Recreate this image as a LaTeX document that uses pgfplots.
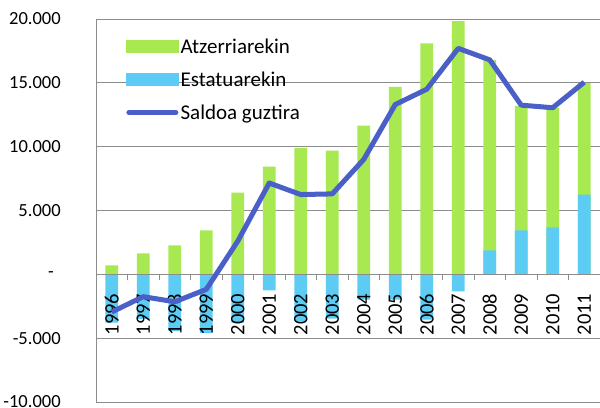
\documentclass[border=0pt]{standalone}
\usepackage{fontspec}
\setmainfont{Carlito}
\usepackage{pgfplots}
\usepackage{pgfplotstable}
\pgfplotsset{compat=1.18}
\definecolor{greenbar}{HTML}{A8E850}
\definecolor{bluebar}{HTML}{5CCCF4}
\definecolor{linecol}{HTML}{4A5FC8}
\definecolor{gridgray}{HTML}{8C8C8C}

\pgfplotsset{
  layers/gridbelow/.define layer set={
    axis background,axis grid,main,axis ticks,axis lines,axis tick labels,axis descriptions,axis foreground
  }{
    grid style={/pgfplots/on layer=axis grid},
    tick style={/pgfplots/on layer=axis ticks},
    axis line style={/pgfplots/on layer=axis lines},
    label style={/pgfplots/on layer=axis descriptions},
    legend style={/pgfplots/on layer=axis descriptions},
    title style={/pgfplots/on layer=axis descriptions},
    colorbar style={/pgfplots/on layer=axis descriptions},
    ticklabel style={/pgfplots/on layer=axis tick labels},
    axis background@ style={/pgfplots/on layer=axis background},
  },
}

\pgfplotstableread{
idx year green blue total
0 1996 700 -3780 -2950
1 1997 1640 -3500 -1750
2 1998 2270 -4430 -2150
3 1999 3440 -4580 -1180
4 2000 6400 -3780 2600
5 2001 8440 -1250 7150
6 2002 9900 -3660 6250
7 2003 9690 -3460 6300
8 2004 11640 -1980 9000
9 2005 14690 -1980 13300
10 2006 18100 -3540 14500
11 2007 19840 -1330 17700
12 2008 14930 1870 16800
13 2009 9760 3440 13250
14 2010 9350 3670 13050
15 2011 8720 6250 15050
}\datatable

\begin{document}
\begin{tikzpicture}
\begin{axis}[
  set layers=gridbelow,
  scale only axis, width=504bp, height=383bp,
  xmin=-0.5, xmax=15.5, ymin=-10000, ymax=20000,
  scaled y ticks=false,
  axis x line=middle, axis y line=left,
  axis line style={gridgray, line width=0.9bp, -},
  ytick={-10000,-5000,0,5000,10000,15000,20000},
  yticklabels={-10.000,-5.000,-\kern7bp,5.000,10.000,15.000,20.000},
  ymajorgrids, grid style={gridgray, line width=0.9bp},
  ytick style={draw=none},
  yticklabel style={font=\fontsize{18.5bp}{22bp}\selectfont, anchor=east, inner sep=0pt, xshift=-33bp},
  xtick={0,...,15},
  xticklabels={1996,1997,1998,1999,2000,2001,2002,2003,2004,2005,2006,2007,2008,2009,2010,2011},
  major x tick style={draw=none},
  minor xtick={0.5,1.5,...,14.5},
  minor x tick style={draw=gridgray, line width=0.9bp},
  minor tick length=6bp,
  xtick align=outside,
  xticklabel style={font=\fontsize{20.5bp}{24bp}\selectfont, rotate=90, anchor=east, inner sep=0pt},
  xticklabel shift=15bp,
  legend style={at={(rel axis cs:0.0595,0.955)}, anchor=north west, draw=none, fill=none,
    font=\fontsize{21bp}{25bp}\selectfont, row sep=13bp, inner sep=0pt,
    /tikz/every even column/.append style={column sep=5bp}},
  legend cell align=left,
]
\addplot[ybar, bar width=0.4, bar shift=0pt, fill=greenbar, draw=none, forget plot]
  table[x=idx, y expr={\thisrow{green}+max(\thisrow{blue},0)}] {\datatable};
\addplot[ybar, bar width=0.4, bar shift=0pt, fill=bluebar, draw=none, forget plot]
  table[x=idx, y=blue] {\datatable};
\addplot[linecol, line width=5bp, line join=round, no marks, forget plot, /pgfplots/on layer=axis foreground]
  table[x=idx, y=total] {\datatable};
\coordinate (sw) at (rel axis cs:0,0);
\coordinate (ne) at (rel axis cs:1,1);
\addlegendimage{legend image code/.code={\fill[greenbar] (0bp,-6bp) rectangle (52bp,6bp);}}
\addlegendentry{Atzerriarekin}
\addlegendimage{legend image code/.code={\fill[bluebar] (0bp,-6bp) rectangle (52bp,6bp);}}
\addlegendentry{Estatuarekin}
\addlegendimage{legend image code/.code={\draw[linecol, line width=5bp, line cap=round] (2.5bp,0bp) -- (49.5bp,0bp);}}
\addlegendentry{Saldoa guztira}
\end{axis}
\pgfresetboundingbox
\path[use as bounding box] ([xshift=-96bp,yshift=-6bp]sw) rectangle ([yshift=19bp]ne);
\end{tikzpicture}
\end{document}
